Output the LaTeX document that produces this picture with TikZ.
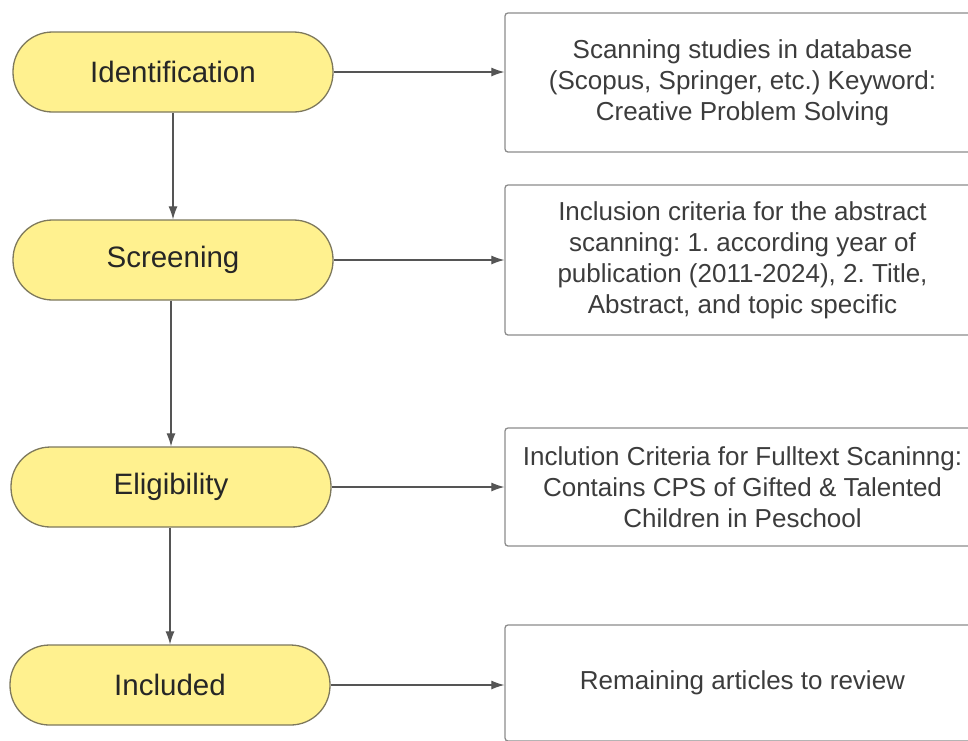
\documentclass[tikz,border=0pt]{standalone}
\usepackage{fontspec}
\setmainfont{Liberation Sans}
\usetikzlibrary{arrows.meta}
\definecolor{stagefill}{RGB}{255,241,143}
\definecolor{stageline}{RGB}{125,120,92}
\definecolor{boxline}{RGB}{140,140,140}
\definecolor{boxtext}{RGB}{60,60,60}
\definecolor{arrowline}{RGB}{85,85,85}
\frenchspacing

\begin{document}
\begin{tikzpicture}[x=1pt,y=-1pt,
	stage/.style={draw=stageline,line width=1.3pt,fill=stagefill,rounded corners=39.5pt,minimum width=320pt,minimum height=80pt,font=\fontsize{29.5}{34}\selectfont,text=black!85},
	info/.style={draw=boxline,line width=1.3pt,rounded corners=3pt,minimum width=475pt,align=center,font=\fontsize{26}{31}\selectfont,text=boxtext},
	flow/.style={draw=arrowline,line width=1.1pt,-{Latex[length=13pt,width=9pt]}}]
	\clip (0,0) rectangle (968,740);
	\node[stage] (ident) at (173,72) {Identification};
	\node[stage] (screen) at (173,260) {Screening};
	\node[stage] (elig) at (171,487) {Eligibility};
	\node[stage] (incl) at (170,685) {Included};
	\node[info,minimum height=139pt] (scan) at (742.5,82.5) {Scanning studies in database\\(Scopus, Springer, etc.) Keyword:\\Creative Problem Solving};
	\node[info,minimum height=150pt] (abstr) at (742.5,260) {Inclusion criteria for the abstract\\scanning: 1. according year of\\publication (2011-2024), 2. Title,\\Abstract, and topic specific};
	\node[info,minimum height=118pt] (full) at (742.5,487) {Inclution Criteria for Fulltext Scaninng:\\Contains CPS of Gifted \& Talented\\Children in Peschool};
	\node[info,minimum height=116pt] (remain) at (742.5,683) {Remaining articles to review};
	\draw[flow] (ident.south) -- (ident.south |- screen.north);
	\draw[flow] (screen.south -| elig.north) -- (elig.north);
	\draw[flow] (elig.south -| incl.north) -- (incl.north);
	\draw[flow] (ident.east) -- (ident.east -| scan.west);
	\draw[flow] (screen.east) -- (screen.east -| abstr.west);
	\draw[flow] (elig.east) -- (elig.east -| full.west);
	\draw[flow] (incl.east) -- (incl.east -| remain.west);
\end{tikzpicture}
\end{document}
